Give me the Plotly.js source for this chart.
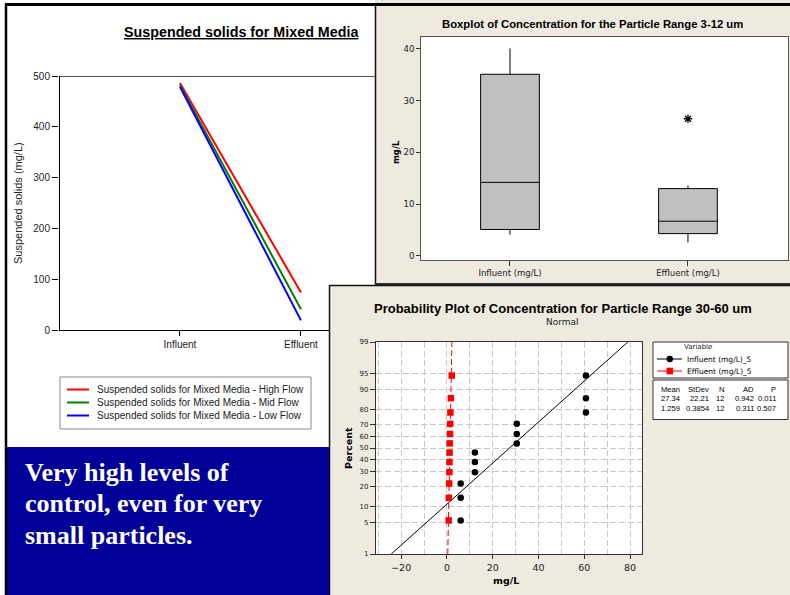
<!DOCTYPE html>
<html>
<head>
<meta charset="utf-8">
<script src="https://cdn.plot.ly/plotly-3.0.1.min.js"></script>
<style>html,body{margin:0;padding:0;background:#fff;}#chart{width:790px;height:595px;}</style>
</head>
<body>
<div id="chart"></div>
<script>
// ---------- data ----------
// Left chart: Suspended solids for Mixed Media
const stages = ['Influent', 'Effluent'];
const flowNames = ['Suspended solids for Mixed Media - High Flow',
                   'Suspended solids for Mixed Media - Mid Flow',
                   'Suspended solids for Mixed Media - Low Flow'];
const highFlow = [486, 74];
const midFlow  = [482, 41];
const lowFlow  = [479, 19];
const flowColors = ['#ff0000', '#008000', '#0000ff'];

// Boxplot: Concentration 3-12 um
const boxCats = ['Influent (mg/L)', 'Effluent (mg/L)'];
const boxLow    = [4.1, 2.6];
const boxQ1     = [5.1, 4.3];
const boxMedian = [14.2, 6.7];
const boxQ3     = [35.1, 13.0];
const boxHigh   = [40.1, 13.6];
const outlierCat = ['Effluent (mg/L)'];
const outlierVal = [26.5];

// Probability plot: Concentration 30-60 um
const plotPercent = [5.6, 13.7, 21.8, 29.8, 37.9, 46.0, 54.0, 62.1, 70.2, 78.2, 86.3, 94.4];
const influentVals = [6.0, 6.0, 6.0, 12.2, 12.2, 12.2, 30.5, 30.5, 30.5, 60.7, 60.7, 60.7];
const effluentVals = [0.75, 0.8, 0.95, 1.05, 1.1, 1.15, 1.2, 1.35, 1.4, 1.5, 1.7, 2.1];
const probNames = ['Influent (mg/L)_5', 'Effluent (mg/L)_5'];
const statMean = [27.34, 1.259];
const statSD   = [22.21, 0.3854];
const statN    = [12, 12];
const statAD   = [0.942, 0.311];
const statP    = [0.011, 0.507];
const percentTicks = [1, 5, 10, 20, 30, 40, 50, 60, 70, 80, 90, 95, 99];

const slideText = ['Very high levels of', 'control, even for very', 'small particles.'];

// ---------- helpers ----------
const W = 790, H = 595;
const px = x => x / W;
const py = y => 1 - y / H;

function normInv(p) {
  const a=[-3.969683028665376e+01,2.209460984245205e+02,-2.759285104469687e+02,1.383577518672690e+02,-3.066479806614716e+01,2.506628277459239e+00];
  const b=[-5.447609879822406e+01,1.615858368580409e+02,-1.556989798598866e+02,6.680131188771972e+01,-1.328068155288572e+01];
  const c=[-7.784894002430293e-03,-3.223964580411365e-01,-2.400758277161838e+00,-2.549671348283707e+00,4.374664141464968e+00,2.938163982698783e+00];
  const d=[7.784695709041462e-03,3.224671290700398e-01,2.445134137142996e+00,3.754408661907416e+00];
  const pl = 0.02425, ph = 1 - pl;
  let q, r;
  if (p < pl) { q = Math.sqrt(-2*Math.log(p)); return (((((c[0]*q+c[1])*q+c[2])*q+c[3])*q+c[4])*q+c[5])/((((d[0]*q+d[1])*q+d[2])*q+d[3])*q+1); }
  if (p <= ph) { q = p - 0.5; r = q*q; return (((((a[0]*r+a[1])*r+a[2])*r+a[3])*r+a[4])*r+a[5])*q/(((((b[0]*r+b[1])*r+b[2])*r+b[3])*r+b[4])*r+1); }
  q = Math.sqrt(-2*Math.log(1-p)); return -(((((c[0]*q+c[1])*q+c[2])*q+c[3])*q+c[4])*q+c[5])/((((d[0]*q+d[1])*q+d[2])*q+d[3])*q+1);
}
const zRange = [normInv(0.01), normInv(0.99)];

const SANS = 'Liberation Sans, Arial, sans-serif';
const MINI = 'DejaVu Sans, Verdana, sans-serif';
const BEIGE = '#eeeae0';

// ---------- traces ----------
const traces = [];
[highFlow, midFlow, lowFlow].forEach((vals, i) => {
  traces.push({type:'scatter', mode:'lines', x: stages, y: vals, name: flowNames[i],
    line:{color: flowColors[i], width:2}, xaxis:'x', yaxis:'y', showlegend:false, hoverinfo:'skip'});
});

traces.push({type:'box', x: boxCats, q1: boxQ1, median: boxMedian, q3: boxQ3,
  lowerfence: boxLow, upperfence: boxHigh, width: 0.33, whiskerwidth: 0,
  fillcolor:'#c0c0c0', line:{color:'#000', width:1}, boxpoints:false,
  xaxis:'x2', yaxis:'y2', showlegend:false});
traces.push({type:'scatter', mode:'markers', x: outlierCat, y: outlierVal,
  marker:{symbol:'asterisk-open', size:7, color:'#000', line:{color:'#000', width:1.3}},
  xaxis:'x2', yaxis:'y2', showlegend:false});

const zPts = plotPercent.map(p => normInv(p/100));
const probColors = ['#000000', '#ff0000'];
const probSymbols = ['circle', 'square'];
const probDash = ['solid', '6px,3px'];
[influentVals, effluentVals].forEach((vals, i) => {
  traces.push({type:'scatter', mode:'lines', x: zRange.map(z => statMean[i] + statSD[i]*z), y: zRange,
    line:{color: probColors[i], width:1, dash: probDash[i]}, xaxis:'x3', yaxis:'y3', showlegend:false});
  traces.push({type:'scatter', mode:'markers', x: vals, y: zPts, name: probNames[i],
    marker:{symbol: probSymbols[i], size:6.5, color: probColors[i]}, xaxis:'x3', yaxis:'y3', showlegend:false});
});

// ---------- shapes ----------
const shapes = [];
function rect(x0,y0,x1,y1,fill,line,layer){ shapes.push({type:'rect', xref:'paper', yref:'paper', x0:px(x0), x1:px(x1), y0:py(y1), y1:py(y0), fillcolor:fill, line: line || {width:0}, layer: layer || 'below'}); }
function seg(x0,y0,x1,y1,color,width){ shapes.push({type:'line', xref:'paper', yref:'paper', x0:px(x0), x1:px(x1), y0:py(y0), y1:py(y1), line:{color:color, width:width}, layer:'above'}); }

rect(375, 0, 790, 285, BEIGE);          // boxplot panel
rect(329, 285, 790, 595, BEIGE);        // probability panel
rect(421, 37, 788, 260, '#ffffff');     // boxplot plot area
rect(376, 342, 642, 554, '#ffffff');    // prob plot area
rect(7, 447, 330, 595, '#000099');      // blue text box

// slide frame and panel borders
seg(5, 4.5, 790, 4.5, '#000', 3);
seg(6, 4, 6, 595, '#000', 2.5);
seg(375.5, 4, 375.5, 285, '#111', 1.5);
seg(375, 284, 790, 284, '#333', 2);
seg(329, 285.5, 790, 285.5, '#111', 1.5);
seg(329.5, 285, 329.5, 595, '#111', 1.5);

// left chart frame
seg(59, 76.5, 375, 76.5, '#555', 1);
seg(59.5, 76, 59.5, 330, '#000', 1);
seg(59, 330.5, 329, 330.5, '#000', 1);

// left legend
rect(60, 377, 311, 429, 'rgba(0,0,0,0)', {color:'#888', width:1}, 'above');
flowNames.forEach((n, i) => seg(67, 389.5 + 13*i, 89, 389.5 + 13*i, flowColors[i], 2));

// prob legend + stats table
rect(653, 342, 788, 378, '#ffffff', {color:'#333', width:1}, 'below');
rect(653, 380, 788, 419.5, '#ffffff', {color:'#333', width:1}, 'below');
probNames.forEach((n, i) => {
  const yy = 359 + 12*i;
  shapes.push({type:'line', xref:'paper', yref:'paper', x0:px(657), x1:px(682), y0:py(yy), y1:py(yy),
    line:{color: probColors[i], width:1}, layer:'above'});
  if (i === 0) shapes.push({type:'circle', xref:'paper', yref:'paper', x0:px(666.5), x1:px(673), y0:py(yy+3.3), y1:py(yy-3.3), fillcolor:'#000', line:{width:0}, layer:'above'});
  else shapes.push({type:'rect', xref:'paper', yref:'paper', x0:px(666.5), x1:px(673), y0:py(yy+3.3), y1:py(yy-3.3), fillcolor:'#ff0000', line:{width:0}, layer:'above'});
});

// ---------- annotations ----------
const annotations = [];
function ann(text, x, y, o) {
  annotations.push(Object.assign({text:text, xref:'paper', yref:'paper', x:px(x), y:py(y), showarrow:false,
    xanchor:'center', yanchor:'middle', font:{family:SANS, size:10, color:'#000'}}, o || {}));
}
ann('<u><b>Suspended solids for Mixed Media</b></u>', 241, 32, {font:{family:SANS, size:14.3, color:'#000'}});
ann('Suspended solids (mg/L)', 18, 203, {textangle:-90, font:{family:SANS, size:11, color:'#222'}});
flowNames.forEach((n, i) => ann(n, 95, 389.5 + 13*i, {xanchor:'left', font:{family:SANS, size:10, color:'#222'}}));

ann('<b>Boxplot of Concentration for the Particle Range 3-12 um</b>', 592, 24, {font:{family:SANS, size:11.3, color:'#000'}});
ann('<b>mg/L</b>', 396, 152, {textangle:-90, font:{family:MINI, size:8.5, color:'#000'}});

ann('<b>Probability Plot of Concentration for Particle Range 30-60 um</b>', 563, 308, {font:{family:SANS, size:13, color:'#000'}});
ann('Normal', 562, 322, {font:{family:MINI, size:9, color:'#222'}});
ann('<b>Percent</b>', 348, 448, {textangle:-90, font:{family:MINI, size:9.5, color:'#000'}});
ann('<b>mg/L</b>', 506, 580, {font:{family:MINI, size:9.5, color:'#000'}});

ann('Variable', 698, 347, {font:{family:MINI, size:7, color:'#222'}});
probNames.forEach((n, i) => ann(n, 685, 359 + 12*i, {xanchor:'left', font:{family:MINI, size:7.5, color:'#000'}}));
const colRight = [682, 711, 726, 756, 778];
const heads = ['Mean', 'StDev', 'N', 'AD', 'P'];
const TBL = {family:SANS, size:7.6, color:'#000'};
heads.forEach((h, j) => ann(h, colRight[j], 389, {xanchor:'right', font:TBL}));
[0, 1].forEach(i => {
  const row = [statMean[i], statSD[i], statN[i], statAD[i], statP[i]].map(String);
  row.forEach((t, j) => ann(t, colRight[j], 398.5 + 9.5*i, {xanchor:'right', font:TBL}));
});

slideText.forEach((t, i) => ann('<b>' + t + '</b>', 23, 472 + 31.5*i,
  {xanchor:'left', font:{family:'Liberation Serif, Times New Roman, serif', size:26, color:'#ffffff'}}));

// ---------- layout ----------
const layout = {
  width: W, height: H,
  margin:{l:0, r:0, t:0, b:0},
  paper_bgcolor:'#ffffff', plot_bgcolor:'rgba(0,0,0,0)',
  showlegend:false,
  xaxis:{domain:[px(59), px(375)], type:'category', categoryarray: stages, range:[-1, 1.612],
    ticks:'outside', ticklen:5, tickcolor:'#000', showgrid:false, zeroline:false, showline:false,
    tickfont:{family:SANS, size:10, color:'#222'}, anchor:'y', fixedrange:true},
  yaxis:{domain:[py(330), py(76)], range:[0, 500], dtick:100, ticks:'outside', ticklen:6, tickcolor:'#000',
    showgrid:false, zeroline:false, showline:false, tickfont:{family:SANS, size:10, color:'#222'}, anchor:'x', fixedrange:true},
  xaxis2:{domain:[px(421), px(788)], type:'category', categoryarray: boxCats, range:[-0.5, 1.562],
    ticks:'outside', ticklen:5, tickcolor:'#333', showgrid:false, zeroline:false, showline:true, mirror:true,
    linecolor:'#555', linewidth:1, tickfont:{family:MINI, size:8.5, color:'#222'}, anchor:'y2', fixedrange:true},
  yaxis2:{domain:[py(260), py(37)], range:[-0.8, 42.3], tick0:0, dtick:10, ticks:'outside', ticklen:4, tickcolor:'#333',
    showgrid:false, zeroline:false, showline:true, mirror:true, linecolor:'#555', linewidth:1,
    tickfont:{family:MINI, size:8.5, color:'#222'}, anchor:'x2', fixedrange:true},
  xaxis3:{domain:[px(376), px(642)], range:[-31, 85.2], tick0:0, dtick:20, ticks:'outside', ticklen:4, tickcolor:'#333',
    showgrid:true, gridcolor:'#c8c8c8', griddash:'6px,3px', gridwidth:1, zeroline:false,
    minor:{tick0:0, dtick:10, showgrid:true, gridcolor:'#c8c8c8', griddash:'6px,3px', ticks:''},
    showline:true, mirror:true, linecolor:'#333', linewidth:1.2,
    tickfont:{family:MINI, size:9.5, color:'#222'}, anchor:'y3', fixedrange:true},
  yaxis3:{domain:[py(554), py(342)], range: zRange, tickmode:'array',
    tickvals: percentTicks.map(p => normInv(p/100)), ticktext: percentTicks.map(String),
    ticks:'outside', ticklen:5, tickcolor:'#333', showgrid:true, gridcolor:'#c8c8c8', griddash:'6px,3px', gridwidth:1,
    zeroline:false, showline:true, mirror:true, linecolor:'#333', linewidth:1.2,
    tickfont:{family:MINI, size:7, color:'#222'}, anchor:'x3', fixedrange:true},
  shapes: shapes,
  annotations: annotations
};

Plotly.newPlot('chart', traces, layout, {displayModeBar:false, staticPlot:true});
</script>
</body>
</html>
